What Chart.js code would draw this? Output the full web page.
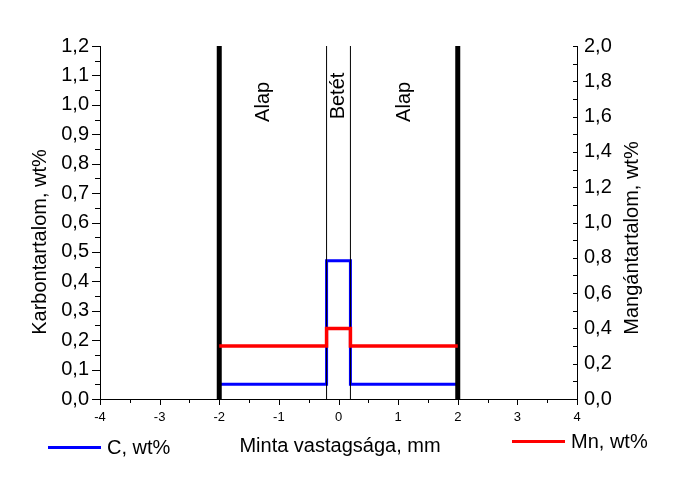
<!DOCTYPE html>
<html>
<head>
<meta charset="utf-8">
<script src="https://cdn.jsdelivr.net/npm/chart.js@4.4.0/dist/chart.umd.min.js"></script>
<style>
  html, body { margin: 0; padding: 0; background: #fff; }
  #wrap { width: 686px; height: 486px; position: relative; }
</style>
</head>
<body>
<div id="wrap"><canvas id="chart" width="686" height="486"></canvas></div>
<script>
// lépcsők helye (mm), értékek a lépcső kezdetétől érvényesek
const positions = [-2, -0.2, 0.2, 2];
const carbon = [0.05, 0.47, 0.05, 0.05];   // C, wt% (bal tengely)
const manganese = [0.3, 0.4, 0.3, 0.3];    // Mn, wt% (jobb tengely)

// határvonalak
const boundaries = [-2, -0.2, 0.2, 2];
const boundaryWidths = [5, 1, 1, 5];

// zónák feliratai
const zoneLabels = ['Alap', 'Betét', 'Alap'];
const zoneCenters = [-1.25, 0, 1.1];

const FONT = "'Liberation Sans', Arial, sans-serif";
const fmt = v => v.toFixed(1).replace('.', ',');

const toPoints = (xs, ys) => xs.map((x, i) => ({ x: x, y: ys[i] }));

const boundarySets = boundaries.map((b, i) => ({
    label: 'b' + i,
    data: [{ x: b, y: 0 }, { x: b, y: 1.2 }],
    yAxisID: 'y',
    borderColor: '#000',
    borderWidth: boundaryWidths[i],
    borderCapStyle: 'butt',
    pointRadius: 0
}));

// tengelyek, feliratok, jelmagyarázat
const decor = {
    id: 'decor',
    afterDraw(chart) {
        const ctx = chart.ctx;
        const x = chart.scales.x, y = chart.scales.y, y1 = chart.scales.y1;
        ctx.save();
        ctx.strokeStyle = '#000';
        ctx.lineWidth = 1;
        ctx.beginPath();
        // bal tengely: kifelé
        for (let v = 0; v <= 1.2001; v += 0.05) {
            const p = Math.round(y.getPixelForValue(v)) + 0.5;
            const major = Math.abs(v * 10 - Math.round(v * 10)) < 0.01;
            ctx.moveTo(y.right, p);
            ctx.lineTo(y.right - (major ? 8 : 5), p);
        }
        // jobb tengely: befelé
        for (let v = 0; v <= 2.0001; v += 0.1) {
            const p = Math.round(y1.getPixelForValue(v)) + 0.5;
            ctx.moveTo(y1.left, p);
            ctx.lineTo(y1.left - 4, p);
        }
        // x tengely
        for (let v = -4; v <= 4.0001; v += 0.5) {
            const p = Math.round(x.getPixelForValue(v)) + 0.5;
            const major = Math.abs(v - Math.round(v)) < 0.01;
            ctx.moveTo(p, x.top);
            ctx.lineTo(p, x.top + (major ? 6 : 4));
        }
        ctx.stroke();

        ctx.fillStyle = '#000';
        ctx.font = '20px ' + FONT;
        ctx.textAlign = 'center';
        ctx.textBaseline = 'middle';

        // zónák
        zoneLabels.forEach((t, i) => {
            ctx.save();
            ctx.translate(x.getPixelForValue(zoneCenters[i]), y.getPixelForValue(i === 1 ? 1.03 : 1.01));
            ctx.rotate(-Math.PI / 2);
            ctx.fillText(t, 0, 0);
            ctx.restore();
        });

        // tengelycímek
        ctx.save();
        ctx.translate(40, 242);
        ctx.rotate(-Math.PI / 2);
        ctx.fillText('Karbontartalom, wt%', 0, 0);
        ctx.restore();

        ctx.save();
        ctx.translate(632, 238);
        ctx.rotate(-Math.PI / 2);
        ctx.fillText('Mangántartalom, wt%', 0, 0);
        ctx.restore();

        ctx.fillText('Minta vastagsága, mm', 340, 446);

        // jelmagyarázat
        ctx.lineWidth = 3;
        ctx.strokeStyle = '#0000ff';
        ctx.beginPath();
        ctx.moveTo(48, 447.5);
        ctx.lineTo(101, 447.5);
        ctx.stroke();
        ctx.strokeStyle = '#ff0000';
        ctx.beginPath();
        ctx.moveTo(512, 441.5);
        ctx.lineTo(565, 441.5);
        ctx.stroke();
        ctx.textAlign = 'left';
        ctx.fillText('C, wt%', 107, 448);
        ctx.fillText('Mn, wt%', 571, 442);
        ctx.restore();
    }
};

new Chart(document.getElementById('chart'), {
    type: 'line',
    data: {
        datasets: [
            {
                label: 'Mn, wt%',
                data: toPoints(positions, manganese),
                yAxisID: 'y1',
                stepped: 'before',
                borderColor: '#ff0000',
                borderWidth: 3.5,
                pointRadius: 0
            },
            ...boundarySets,
            {
                label: 'C, wt%',
                data: toPoints(positions, carbon),
                yAxisID: 'y',
                stepped: 'before',
                borderColor: '#0000ff',
                borderWidth: 3,
                pointRadius: 0
            }
        ]
    },
    options: {
        responsive: false,
        animation: false,
        layout: { padding: { top: 46, left: 0, right: 0, bottom: 0 } },
        plugins: {
            legend: { display: false },
            tooltip: { enabled: false }
        },
        scales: {
            x: {
                type: 'linear',
                min: -4,
                max: 4,
                afterFit: s => { s.height = 87; },
                grid: { display: false, drawTicks: false },
                border: { display: true, color: '#000', width: 1 },
                ticks: {
                    stepSize: 1,
                    padding: 11,
                    color: '#000',
                    font: { family: FONT, size: 13 },
                    callback: v => String(v)
                }
            },
            y: {
                position: 'left',
                min: 0,
                max: 1.2,
                afterFit: s => { s.width = 100; },
                grid: { display: false, drawTicks: false },
                border: { display: true, color: '#000', width: 1 },
                ticks: {
                    stepSize: 0.1,
                    padding: 11,
                    color: '#000',
                    font: { family: FONT, size: 20 },
                    callback: v => fmt(v)
                }
            },
            y1: {
                position: 'right',
                min: 0,
                max: 2,
                afterFit: s => { s.width = 109; },
                grid: { display: false, drawTicks: false },
                border: { display: true, color: '#000', width: 1 },
                ticks: {
                    stepSize: 0.2,
                    padding: 7,
                    color: '#000',
                    font: { family: FONT, size: 20 },
                    callback: v => fmt(v)
                }
            }
        }
    },
    plugins: [decor]
});
</script>
</body>
</html>
